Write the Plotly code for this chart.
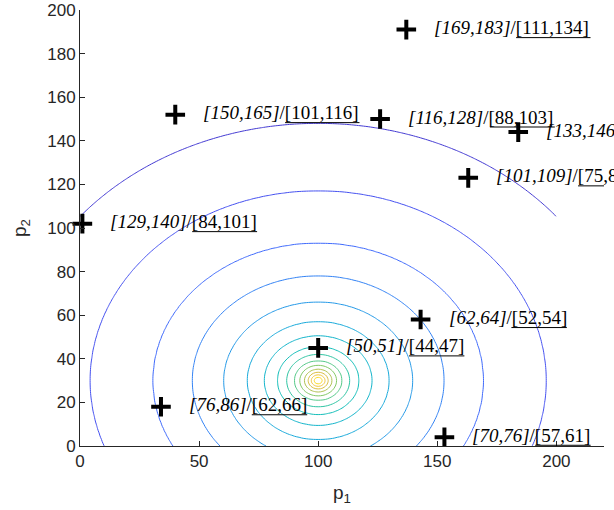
import numpy as np
import plotly.graph_objects as go

# ---- contour field: ring radii (distance from the peak) ----
peak_p1 = 100
peak_p2 = 30
ring_level = [15, 14, 13, 12, 11, 10, 9, 8, 7, 6, 5, 4, 3, 2, 1]
ring_radius = [1.6, 2.6, 3.8, 5.2, 7, 9, 12, 15.5, 20.5, 27, 36, 48, 63, 87, 118]
p1_stretch = 1.1
grid_p1 = np.arange(0, 201, 1.0)
grid_p2 = np.arange(0, 201, 1.0)

# ---- marked points and their labels ----
marker_p1 = [137, 40, 126, 184, 163, 1, 143, 100, 34, 153]
marker_p2 = [191, 152, 150, 144, 123, 102, 58, 45, 18, 4]
label_a = ["[169,183]", "[150,165]", "[116,128]", "[133,146]", "[101,109]",
           "[129,140]", "[62,64]", "[50,51]", "[76,86]", "[70,76]"]
label_b = ["[111,134]", "[101,116]", "[88,103]", "[97,110]", "[75,85]",
           "[84,101]", "[52,54]", "[44,47]", "[62,66]", "[57,61]"]

x_ticks = [0, 50, 100, 150, 200]
y_ticks = [0, 20, 40, 60, 80, 100, 120, 140, 160, 180, 200]

# parula colormap stops
parula = [
    (0.00, (0.2422, 0.1504, 0.6603)),
    (0.10, (0.2803, 0.2782, 0.9221)),
    (0.20, (0.2440, 0.4358, 0.9988)),
    (0.30, (0.1540, 0.5902, 0.9218)),
    (0.40, (0.0780, 0.6900, 0.8400)),
    (0.50, (0.0704, 0.7457, 0.7258)),
    (0.60, (0.2586, 0.7877, 0.5863)),
    (0.70, (0.5500, 0.7900, 0.3800)),
    (0.80, (0.8300, 0.7350, 0.2600)),
    (0.90, (0.9956, 0.7862, 0.2196)),
    (1.00, (0.9769, 0.9839, 0.0805)),
]


def parula_at(t):
    for (t0, c0), (t1, c1) in zip(parula[:-1], parula[1:]):
        if t <= t1:
            f = (t - t0) / (t1 - t0)
            c = [c0[i] + f * (c1[i] - c0[i]) for i in range(3)]
            return "rgb(%d,%d,%d)" % tuple(int(round(v * 255)) for v in c)
    c = parula[-1][1]
    return "rgb(%d,%d,%d)" % tuple(int(round(v * 255)) for v in c)


n_lev = len(ring_level)
colorscale = [[(k - 1) / (n_lev - 1), parula_at(k / (n_lev + 1))] for k in range(1, n_lev + 1)]

X, Y = np.meshgrid(grid_p1, grid_p2)
dist = np.hypot((X - peak_p1) / p1_stretch, Y - peak_p2)
z = np.interp(dist, [0] + ring_radius + [320], [n_lev + 1] + ring_level + [-5])

fig = go.Figure()
fig.add_trace(go.Contour(
    x=grid_p1, y=grid_p2, z=z,
    contours=dict(start=1, end=n_lev, size=1, coloring="lines"),
    colorscale=colorscale, showscale=False,
    line=dict(width=1), hoverinfo="skip",
))
fig.add_trace(go.Scatter(
    x=marker_p1, y=marker_p2, mode="markers", cliponaxis=False,
    marker=dict(symbol="cross-thin", size=14, color="black",
                line=dict(width=4, color="black")),
    showlegend=False,
))

# Times / Liberation Serif advance widths (per 1000 em) for the underline length
w_roman = {"[": 333, "]": 333, ",": 250, "/": 278}
w_italic = {"[": 389, "]": 389, ",": 250}
label_size = 19
text_shift = 28


def text_width(s, table):
    return sum(table.get(ch, 500) for ch in s) * label_size / 1000.0


for px, py, a, b in zip(marker_p1, marker_p2, label_a, label_b):
    fig.add_annotation(
        x=px, y=py, xref="x", yref="y", showarrow=False,
        xanchor="left", yanchor="middle", xshift=text_shift, yshift=2,
        borderpad=0, borderwidth=0,
        text="<i>%s</i>/%s" % (a, b),
        font=dict(family="Liberation Serif", size=label_size, color="black"),
    )
    u0 = text_shift + text_width(a, w_italic) + text_width("/", w_roman)
    u1 = u0 + text_width(b, w_roman)
    fig.add_shape(
        type="line", xref="x", yref="y", xsizemode="pixel", ysizemode="pixel",
        xanchor=px, yanchor=py, x0=u0, x1=u1, y0=-8, y1=-8,
        line=dict(color="black", width=1),
    )

axis_font = dict(family="Liberation Sans, Arial", size=17, color="#262626")
title_font = dict(family="Liberation Sans, Arial", size=19, color="#262626")
fig.update_layout(
    width=614, height=510,
    margin=dict(l=80, r=10, t=10, b=64),
    paper_bgcolor="white", plot_bgcolor="white",
    showlegend=False,
    xaxis=dict(range=[0, 220], tickvals=x_ticks, ticks="inside", ticklen=5,
               tickcolor="#262626", showline=True, linecolor="#262626", linewidth=1,
               showgrid=False, zeroline=False, tickfont=axis_font, automargin=False,
               title=dict(text="p<sub>1</sub>", font=title_font)),
    yaxis=dict(range=[0, 200], tickvals=y_ticks, ticks="inside", ticklen=5,
               tickcolor="#262626", showline=True, linecolor="#262626", linewidth=1,
               showgrid=False, zeroline=False, tickfont=axis_font, automargin=False,
               title=dict(text="p<sub>2</sub>", font=title_font)),
)

fig.write_html("out.html")
